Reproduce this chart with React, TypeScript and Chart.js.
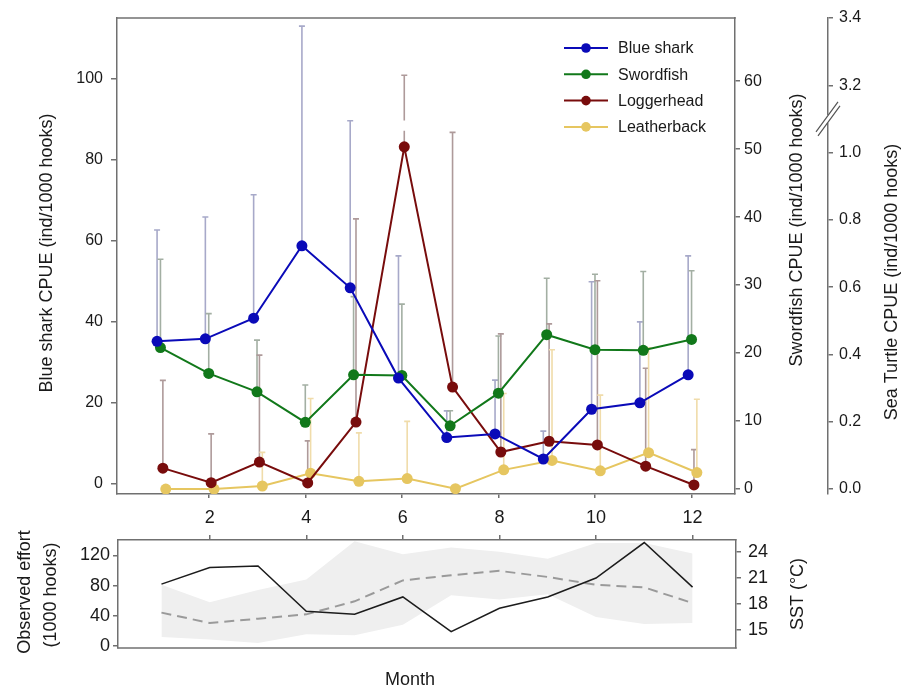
import React, { useEffect, useRef } from 'react';
import { Chart, registerables } from 'chart.js';
Chart.register(...registerables);

// ---------------- data ----------------
const MONTHS = [1, 2, 3, 4, 5, 6, 7, 8, 9, 10, 11, 12];
const MONTH_TICKS = [2, 4, 6, 8, 10, 12];

const BLUE_SHARK = [35.1, 35.7, 40.8, 58.7, 48.3, 26.0, 11.3, 12.2, 6.0, 18.3, 19.9, 26.8];
const BLUE_SHARK_UPPER = [62.6, 65.8, 71.3, 113.0, 89.6, 56.2, 17.9, 25.5, 12.9, 49.8, 39.9, 56.2];
const SWORDFISH = [20.8, 17.0, 14.3, 9.8, 16.8, 16.7, 9.3, 14.1, 22.7, 20.5, 20.4, 22.0];
const SWORDFISH_UPPER = [33.8, 25.8, 21.9, 15.3, 28.3, 27.2, 11.5, 22.5, 31.0, 31.6, 32.0, 32.1];
const LOGGERHEAD = [0.062, 0.019, 0.08, 0.018, 0.199, 1.017, 0.303, 0.11, 0.142, 0.131, 0.068, 0.012];
const LOGGERHEAD_UPPER = [0.323, 0.164, 0.398, 0.143, 0.803, 3.23, 1.06, 0.461, 0.491, 0.619, 0.359, 0.117];
const LEATHERBACK = [0.0, 0.0, 0.009, 0.047, 0.023, 0.031, 0.001, 0.057, 0.085, 0.054, 0.108, 0.049];
const LEATHERBACK_UPPER = [null, null, 0.109, 0.269, 0.167, 0.201, null, 0.284, 0.414, 0.279, 0.42, 0.267];

const EFFORT = [82, 104, 106, 46, 42, 65, 19, 50, 65, 90, 137, 78];
const SST_MEAN = [17.0, 15.8, 16.3, 16.8, 18.3, 20.7, 21.3, 21.8, 21.1, 20.2, 19.9, 18.1];
const SST_MAX = [20.2, 18.2, 19.6, 20.8, 25.2, 23.7, 24.5, 24.0, 23.2, 25.0, 25.0, 23.8];
const SST_MIN = [14.2, 13.9, 13.5, 14.5, 14.4, 15.6, 19.0, 18.5, 19.1, 16.5, 15.7, 15.8];

const BS_TICKS = [0, 20, 40, 60, 80, 100];
const SW_TICKS = [0, 10, 20, 30, 40, 50, 60];
const TURTLE_TICKS = [0, 0.2, 0.4, 0.6, 0.8, 1.0, 3.2, 3.4];
const EFFORT_TICKS = [0, 40, 80, 120];
const SST_TICKS = [15, 18, 21, 24];

// broken sea-turtle axis: values above the break are shifted down
const TURTLE_BREAK_SHIFT = 2.0;
const TURTLE_BREAK_AT = 3.0;
const toTurtleAxis = (v: number) => (v > TURTLE_BREAK_AT ? v - TURTLE_BREAK_SHIFT : v);
const fromTurtleAxis = (v: number) => (v > 1.1 ? v + TURTLE_BREAK_SHIFT : v);

// ---------------- styling ----------------
const FONT = "'Liberation Sans', Arial, Helvetica, sans-serif";
const AXIS_COLOR = '#707070';
const TEXT_COLOR = '#1a1a1a';

const SERIES = [
  { label: 'Blue shark', values: BLUE_SHARK, upper: BLUE_SHARK_UPPER, axis: 'yBS', color: '#0a0ab8', err: '#a7a9c9', dodge: -0.07, map: (v: number) => v },
  { label: 'Swordfish', values: SWORDFISH, upper: SWORDFISH_UPPER, axis: 'ySW', color: '#11781a', err: '#a3afa3', dodge: 0, map: (v: number) => v },
  { label: 'Loggerhead', values: LOGGERHEAD, upper: LOGGERHEAD_UPPER, axis: 'yST', color: '#780c0c', err: '#ae9a9a', dodge: 0.05, map: toTurtleAxis },
  { label: 'Leatherback', values: LEATHERBACK, upper: LEATHERBACK_UPPER, axis: 'yST', color: '#e6c660', err: '#f0dcaa', dodge: 0.11, map: toTurtleAxis },
];

const setTicks = (values: number[]) => (scale: any) => {
  scale.ticks = values.map((v) => ({ value: v }));
};
const fixWidth = (w: number) => (scale: any) => {
  scale.width = w;
};
const fixHeight = (h: number) => (scale: any) => {
  scale.height = h;
};

function rotatedText(ctx: CanvasRenderingContext2D, text: string, x: number, y: number) {
  ctx.save();
  ctx.translate(x, y);
  ctx.rotate(-Math.PI / 2);
  ctx.textAlign = 'center';
  ctx.textBaseline = 'middle';
  ctx.fillText(text, 0, 0);
  ctx.restore();
}

const errorBarPlugin = {
  id: 'errorBars',
  beforeDatasetsDraw(chart: any) {
    const ctx = chart.ctx;
    chart.data.datasets.forEach((ds: any, i: number) => {
      if (!ds.errorUpper) return;
      const meta = chart.getDatasetMeta(i);
      const scale = chart.scales[ds.yAxisID];
      const gapA = ds.yAxisID === 'yST' ? scale.getPixelForValue(1.095) : null;
      const gapB = ds.yAxisID === 'yST' ? scale.getPixelForValue(1.065) : null;
      ctx.save();
      ctx.strokeStyle = ds.errorColor;
      ctx.lineWidth = 1.6;
      meta.data.forEach((pt: any, j: number) => {
        const u = ds.errorUpper[j];
        if (u == null) return;
        const yTop = scale.getPixelForValue(ds.mapFn(u));
        ctx.beginPath();
        if (gapA !== null && yTop < gapA && pt.y > gapB) {
          ctx.moveTo(pt.x, pt.y);
          ctx.lineTo(pt.x, gapB);
          ctx.moveTo(pt.x, gapA);
          ctx.lineTo(pt.x, yTop);
        } else {
          ctx.moveTo(pt.x, pt.y);
          ctx.lineTo(pt.x, yTop);
        }
        ctx.moveTo(pt.x - 3, yTop);
        ctx.lineTo(pt.x + 3, yTop);
        ctx.stroke();
      });
      ctx.restore();
    });
  },
};

const topDecorPlugin = {
  id: 'topDecor',
  afterDraw(chart: any) {
    const { ctx, chartArea, scales } = chart;
    ctx.save();
    // top border of the box
    ctx.strokeStyle = AXIS_COLOR;
    ctx.lineWidth = 1.5;
    ctx.beginPath();
    ctx.moveTo(chartArea.left - 0.75, chartArea.top);
    ctx.lineTo(chartArea.right + 0.75, chartArea.top);
    ctx.stroke();

    // axis break on the sea turtle axis
    const st = scales.yST;
    const bx = st.left;
    const by = st.getPixelForValue(1.1);
    ctx.fillStyle = '#ffffff';
    ctx.fillRect(bx - 3, by - 4, 6, 8);
    ctx.strokeStyle = '#555555';
    ctx.lineWidth = 1.2;
    ctx.beginPath();
    ctx.moveTo(bx - 12, by + 13);
    ctx.lineTo(bx + 10, by - 17);
    ctx.moveTo(bx - 10, by + 17);
    ctx.lineTo(bx + 12, by - 13);
    ctx.stroke();

    // axis titles
    ctx.fillStyle = TEXT_COLOR;
    ctx.font = `18px ${FONT}`;
    const cy = (chartArea.top + chartArea.bottom) / 2;
    rotatedText(ctx, 'Blue shark CPUE (ind/1000 hooks)', scales.yBS.left + 47, cy - 3);
    rotatedText(ctx, 'Swordfish CPUE (ind/1000 hooks)', scales.ySW.left + 62, cy - 26);
    rotatedText(ctx, 'Sea Turtle CPUE (ind/1000 hooks)', scales.yST.left + 64, cy + 26);

    // legend inside the plot
    chart.data.datasets.forEach((ds: any, i: number) => {
      const y = chartArea.top + 30 + i * 26.3;
      const x0 = chartArea.right - 171;
      ctx.strokeStyle = ds.borderColor;
      ctx.lineWidth = 2;
      ctx.beginPath();
      ctx.moveTo(x0, y);
      ctx.lineTo(x0 + 44, y);
      ctx.stroke();
      ctx.fillStyle = ds.borderColor;
      ctx.beginPath();
      ctx.arc(x0 + 22, y, 4.8, 0, Math.PI * 2);
      ctx.fill();
      ctx.fillStyle = TEXT_COLOR;
      ctx.font = `16px ${FONT}`;
      ctx.textAlign = 'left';
      ctx.textBaseline = 'middle';
      ctx.fillText(ds.label, x0 + 54, y + 1);
    });
    ctx.restore();
  },
};

const bottomDecorPlugin = {
  id: 'bottomDecor',
  afterDraw(chart: any) {
    const { ctx, chartArea, scales } = chart;
    ctx.save();
    ctx.strokeStyle = AXIS_COLOR;
    ctx.lineWidth = 1.5;
    ctx.beginPath();
    ctx.moveTo(chartArea.left - 0.75, chartArea.bottom);
    ctx.lineTo(chartArea.right + 0.75, chartArea.bottom);
    ctx.stroke();

    ctx.fillStyle = TEXT_COLOR;
    ctx.font = `18px ${FONT}`;
    const cy = (chartArea.top + chartArea.bottom) / 2;
    rotatedText(ctx, 'Observed effort', scales.yEff.left + 25, cy - 2);
    rotatedText(ctx, '(1000 hooks)', scales.yEff.left + 51, cy + 1);
    rotatedText(ctx, 'SST (°C)', scales.ySST.left + 62, cy);
    ctx.textAlign = 'center';
    ctx.textBaseline = 'middle';
    ctx.fillText('Month', chartArea.left + 292, chartArea.bottom + 32);
    ctx.restore();
  },
};

const yAxisBase = (position: string) => ({
  type: 'linear',
  position,
  bounds: 'data',
  grid: { display: true, drawOnChartArea: false, drawTicks: true, tickLength: 5, color: AXIS_COLOR, lineWidth: 1.5 },
  border: { display: true, color: AXIS_COLOR, width: 1.5 },
  ticks: { color: TEXT_COLOR, font: { family: FONT, size: 16 }, padding: 4 },
});

function topConfig(): any {
  const datasets = SERIES.map((s) => ({
    label: s.label,
    data: MONTHS.map((m, i) => ({ x: m + s.dodge, y: s.map(s.values[i]) })),
    yAxisID: s.axis,
    xAxisID: 'x',
    borderColor: s.color,
    backgroundColor: s.color,
    pointBackgroundColor: s.color,
    pointBorderWidth: 0,
    pointRadius: 5.5,
    borderWidth: 2,
    tension: 0,
    errorUpper: s.upper,
    errorColor: s.err,
    mapFn: s.map,
  }));
  return {
    type: 'line',
    data: { datasets },
    options: {
      animation: false,
      responsive: false,
      devicePixelRatio: 1,
      events: [],
      layout: { padding: { top: 18, left: 0, right: 0, bottom: 0 } },
      plugins: { legend: { display: false }, tooltip: { enabled: false } },
      scales: {
        x: {
          type: 'linear',
          position: 'bottom',
          min: 0.1,
          max: 12.9,
          bounds: 'data',
          afterBuildTicks: setTicks(MONTH_TICKS),
          afterFit: fixHeight(18),
          grid: { display: true, drawOnChartArea: false, drawTicks: true, tickLength: 4, color: AXIS_COLOR, lineWidth: 1.5 },
          border: { display: true, color: AXIS_COLOR, width: 1.5 },
          ticks: { display: false },
        },
        yBS: {
          ...yAxisBase('left'),
          min: -2.65,
          max: 115.0,
          afterBuildTicks: setTicks(BS_TICKS),
          afterFit: fixWidth(117),
          grid: { display: true, drawOnChartArea: false, drawTicks: true, tickLength: 6, color: AXIS_COLOR, lineWidth: 1.5 },
          ticks: { color: TEXT_COLOR, font: { family: FONT, size: 16 }, padding: 8 },
        },
        ySW: {
          ...yAxisBase('right'),
          weight: 0,
          min: -0.74,
          max: 69.3,
          afterBuildTicks: setTicks(SW_TICKS),
          afterFit: fixWidth(93),
        },
        yST: {
          ...yAxisBase('right'),
          weight: 1,
          min: -0.0148,
          max: 1.4,
          afterBuildTicks: setTicks(TURTLE_TICKS.map(toTurtleAxis)),
          afterFit: fixWidth(76),
          ticks: {
            color: TEXT_COLOR,
            font: { family: FONT, size: 16 },
            padding: 6,
            callback: (v: number) => fromTurtleAxis(v).toFixed(1),
          },
        },
      },
    },
    plugins: [errorBarPlugin, topDecorPlugin],
  };
}

function bottomConfig(): any {
  const pts = (arr: number[]) => MONTHS.map((m, i) => ({ x: m, y: arr[i] }));
  const transparent = 'rgba(0,0,0,0)';
  return {
    type: 'line',
    data: {
      datasets: [
        { label: 'Observed effort', data: pts(EFFORT), yAxisID: 'yEff', borderColor: '#1c1c1c', borderWidth: 1.5, pointRadius: 0, tension: 0, fill: false },
        { label: 'SST mean', data: pts(SST_MEAN), yAxisID: 'ySST', borderColor: '#9a9a9a', borderWidth: 2, borderDash: [10, 6], pointRadius: 0, tension: 0, fill: false },
        { label: 'SST max', data: pts(SST_MAX), yAxisID: 'ySST', borderColor: transparent, borderWidth: 0, pointRadius: 0, tension: 0, fill: '+1', backgroundColor: '#efefef' },
        { label: 'SST min', data: pts(SST_MIN), yAxisID: 'ySST', borderColor: transparent, borderWidth: 0, pointRadius: 0, tension: 0, fill: false },
      ],
    },
    options: {
      animation: false,
      responsive: false,
      devicePixelRatio: 1,
      events: [],
      layout: { padding: { top: 0, left: 0, right: 0, bottom: 45 } },
      plugins: { legend: { display: false }, tooltip: { enabled: false } },
      scales: {
        x: {
          type: 'linear',
          position: 'top',
          min: 0.1,
          max: 12.9,
          bounds: 'data',
          afterBuildTicks: setTicks(MONTH_TICKS),
          afterFit: fixHeight(40),
          grid: { display: true, drawOnChartArea: false, drawTicks: true, tickLength: 5, color: AXIS_COLOR, lineWidth: 1.5 },
          border: { display: true, color: AXIS_COLOR, width: 1.5 },
          ticks: { color: TEXT_COLOR, font: { family: FONT, size: 18 }, padding: 6, maxRotation: 0 },
        },
        yEff: {
          ...yAxisBase('left'),
          min: -2.6,
          max: 140.4,
          afterBuildTicks: setTicks(EFFORT_TICKS),
          afterFit: fixWidth(118),
          ticks: { color: TEXT_COLOR, font: { family: FONT, size: 18 }, padding: 3 },
        },
        ySST: {
          ...yAxisBase('right'),
          min: 12.93,
          max: 25.35,
          afterBuildTicks: setTicks(SST_TICKS),
          afterFit: fixWidth(168),
          ticks: { color: TEXT_COLOR, font: { family: FONT, size: 18 }, padding: 7 },
        },
      },
    },
    plugins: [bottomDecorPlugin],
  };
}

export default function App() {
  const topRef = useRef<HTMLCanvasElement>(null);
  const botRef = useRef<HTMLCanvasElement>(null);
  useEffect(() => {
    const top = new Chart(topRef.current as HTMLCanvasElement, topConfig());
    const bot = new Chart(botRef.current as HTMLCanvasElement, bottomConfig());
    return () => {
      top.destroy();
      bot.destroy();
    };
  }, []);
  return (
    <div style={{ position: 'fixed', left: 0, top: 0, width: 904, height: 693, background: '#ffffff' }}>
      <canvas ref={topRef} width={904} height={512} style={{ position: 'absolute', left: 0, top: 0, width: 904, height: 512 }} />
      <canvas ref={botRef} width={904} height={193} style={{ position: 'absolute', left: 0, top: 500, width: 904, height: 193 }} />
    </div>
  );
}
